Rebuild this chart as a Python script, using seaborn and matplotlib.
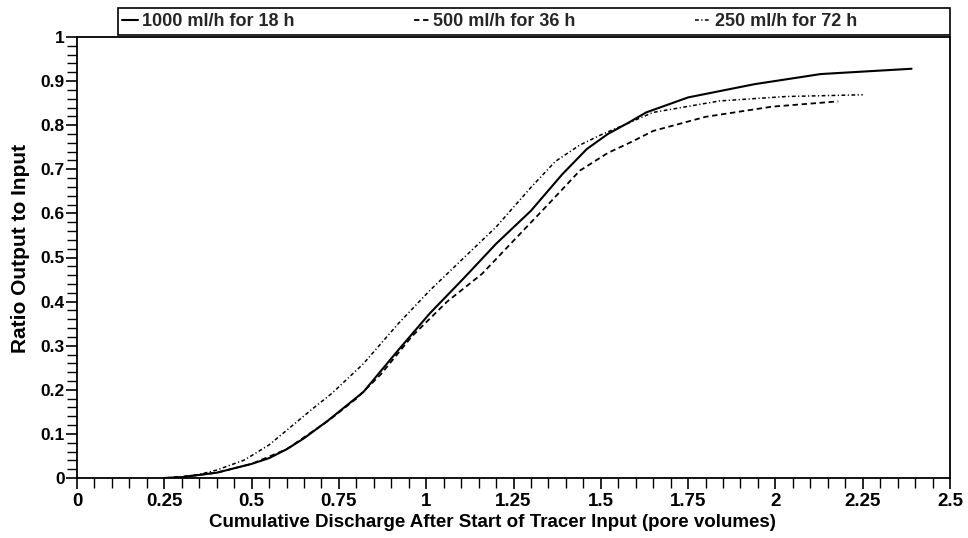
import numpy as np
import pandas as pd
import matplotlib
matplotlib.use("Agg")
import matplotlib.pyplot as plt
from matplotlib.ticker import MultipleLocator
from matplotlib.patches import Rectangle
import seaborn as sns

# ---- data ----
x_1000 = [0.25, 0.30, 0.40, 0.50, 0.55, 0.60, 0.65, 0.72, 0.82, 0.92, 1.01, 1.11,
          1.20, 1.30, 1.39, 1.46, 1.52, 1.58, 1.63, 1.75, 1.94, 2.13, 2.39]
y_1000 = [0.000, 0.002, 0.012, 0.032, 0.045, 0.065, 0.090, 0.131, 0.195, 0.290, 0.373, 0.455,
          0.531, 0.606, 0.689, 0.746, 0.780, 0.806, 0.829, 0.863, 0.893, 0.916, 0.928]

x_500 = [0.25, 0.30, 0.40, 0.50, 0.60, 0.72, 0.80, 0.87, 0.96, 1.06, 1.16, 1.25,
         1.35, 1.44, 1.52, 1.59, 1.65, 1.80, 1.99, 2.18]
y_500 = [0.000, 0.002, 0.012, 0.032, 0.065, 0.130, 0.180, 0.235, 0.322, 0.400, 0.463, 0.538,
         0.621, 0.697, 0.737, 0.763, 0.787, 0.819, 0.842, 0.854]

x_250 = [0.25, 0.30, 0.35, 0.40, 0.48, 0.55, 0.67, 0.73, 0.82, 0.92, 1.01, 1.11,
         1.20, 1.30, 1.37, 1.44, 1.50, 1.55, 1.65, 1.84, 2.03, 2.25]
y_250 = [0.000, 0.003, 0.008, 0.018, 0.041, 0.075, 0.154, 0.192, 0.259, 0.350, 0.425, 0.501,
         0.569, 0.659, 0.718, 0.755, 0.778, 0.795, 0.829, 0.855, 0.865, 0.869]

series_names = ["1000 ml/h for 18 h", "500 ml/h for 36 h", "250 ml/h for 72 h"]

x_ticks = [0, 0.25, 0.5, 0.75, 1, 1.25, 1.5, 1.75, 2, 2.25, 2.5]
x_tick_labels = ["0", "0.25", "0.5", "0.75", "1", "1.25", "1.5", "1.75", "2", "2.25", "2.5"]
y_ticks = [0, 0.1, 0.2, 0.3, 0.4, 0.5, 0.6, 0.7, 0.8, 0.9, 1]
y_tick_labels = ["0", "0.1", "0.2", "0.3", "0.4", "0.5", "0.6", "0.7", "0.8", "0.9", "1"]

x_label = "Cumulative Discharge After Start of Tracer Input (pore volumes)"
y_label = "Ratio Output to Input"

# ---- plotting ----
sns.set_theme(style="ticks")
plt.rcParams["font.family"] = ["Liberation Sans", "DejaVu Sans"]
plt.rcParams["font.weight"] = "bold"

W, H = 968, 538
fig = plt.figure(figsize=(W / 100, H / 100), dpi=100)
ax = fig.add_axes([77 / W, 1 - 478 / H, (950 - 77) / W, (478 - 37) / H])

df_1000 = pd.DataFrame({"x": x_1000, "y": y_1000})
df_500 = pd.DataFrame({"x": x_500, "y": y_500})
df_250 = pd.DataFrame({"x": x_250, "y": y_250})

sns.lineplot(data=df_1000, x="x", y="y", ax=ax, color="black", linewidth=1.5,
             linestyle="-", label=series_names[0])
sns.lineplot(data=df_500, x="x", y="y", ax=ax, color="black", linewidth=1.3,
             linestyle=(0, (3.0, 2.0)), label=series_names[1])
sns.lineplot(data=df_250, x="x", y="y", ax=ax, color="black", linewidth=1.1,
             linestyle=(0, (2.5, 1.6, 0.8, 1.6)), label=series_names[2])

ax.set_xlim(0, 2.5)
ax.set_ylim(0, 1)
ax.set_xticks(x_ticks)
ax.set_xticklabels(x_tick_labels)
ax.set_yticks(y_ticks)
ax.set_yticklabels(y_tick_labels)
ax.xaxis.set_minor_locator(MultipleLocator(0.05))
ax.yaxis.set_minor_locator(MultipleLocator(0.02))

ax.tick_params(axis="both", which="major", direction="out", length=8, width=1.2,
               color="black", labelcolor="black")
ax.tick_params(axis="x", which="major", labelsize=13.5, pad=3)
ax.tick_params(axis="y", which="major", labelsize=12.5, pad=1)
ax.tick_params(axis="both", which="minor", direction="out", length=7, width=1.0,
               color="black")
for lab in ax.get_xticklabels() + ax.get_yticklabels():
    lab.set_fontweight("bold")

for side in ["left", "bottom", "top", "right"]:
    ax.spines[side].set_visible(True)
    ax.spines[side].set_color("black")
    ax.spines[side].set_linewidth(1.3)

ax.set_xlabel(x_label, fontsize=13.5, fontweight="bold", color="black")
ax.xaxis.set_label_coords((492 - 77) / 873, (478 - 514) / 441)
ax.set_ylabel(y_label, fontsize=15, fontweight="bold", color="black")
ax.yaxis.set_label_coords((30 - 77) / 873, 0.52)
ax.grid(False)

ax.get_legend().remove()
handles, labels = ax.get_legend_handles_labels()

# legend frame spanning from x=118 to the right spine
fig.patches.append(Rectangle((118 / W, 1 - 35 / H), (950 - 118) / W, 27 / H,
                             transform=fig.transFigure, fill=False,
                             edgecolor="black", linewidth=1.2))
leg = fig.legend(handles, labels, loc="center left",
                 bbox_to_anchor=(122 / W, 1 - 21.5 / H),
                 ncol=3, frameon=False,
                 handlelength=0.9, handletextpad=0.2, columnspacing=6.6,
                 borderaxespad=0, borderpad=0.0,
                 prop={"size": 13, "weight": "bold"})

fig.savefig("out.png", dpi=100, facecolor="white")
